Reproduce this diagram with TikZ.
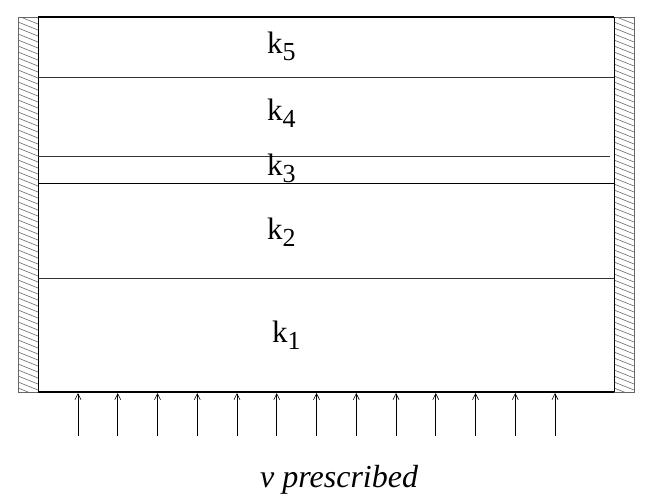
\documentclass[tikz,border=0pt]{standalone}
\usepackage{fontspec}
\setmainfont{Liberation Serif}
\usetikzlibrary{arrows.meta}
\newcommand{\kval}[1]{\fontsize{31}{31}\selectfont k\raisebox{-7pt}{\fontsize{26}{26}\selectfont #1}}

\begin{document}
\begin{tikzpicture}[x=1pt,y=-1pt]
		\useasboundingbox (0,0) rectangle (651,501);
		% walls
		\begin{scope}
			\clip (18,17) rectangle (38,392);
			\foreach \y in {4,10,...,400} \draw[black!60, line width=.6pt](18,\y)--(38,\y+8);
		\end{scope}
		\begin{scope}
			\clip (614,17) rectangle (634,392);
			\foreach \y in {4,10,...,400} \draw[black!60, line width=.6pt](614,\y)--(634,\y+8);
		\end{scope}
		\draw[black!60, line width=.8pt](18,17)rectangle(38,392);
		\draw[black!60, line width=.8pt](614,17)rectangle(634,392);
		% layers
		\draw[line width=1.1pt](38,17)--(614,17);
		\draw[line width=1.1pt](38,392)--(614,392);
		\draw[line width=.6pt](38,17)--(38,392);
		\draw[line width=.6pt](614,17)--(614,392);
		\draw[line width=.7pt, black!80](38,77)--(614,77);
		\draw[line width=.7pt, black!80](38,156)--(610,156);
		\draw[line width=.7pt](38,183)--(614,183);
		\draw[line width=.7pt, black!80](38,278)--(614,278);
		\node[anchor=base west, inner sep=0pt] (k5) at (267,53) {\kval{5}};
		\node[anchor=base west, inner sep=0pt] (k4) at (267,120) {\kval{4}};
		\node[anchor=base west, inner sep=0pt] (k3) at (267,175) {\kval{3}};
		\node[anchor=base west, inner sep=0pt] (k2) at (267,239) {\kval{2}};
		\node[anchor=base west, inner sep=0pt] (k1) at (272,342) {\kval{1}};
		% prescribed velocity
		\foreach \i in {0,...,12}{
			\coordinate (foot\i) at (78+39.75*\i,436);
			\coordinate (tip\i) at (78+39.75*\i,393);
			\draw[-{Straight Barb[length=6pt,width=6pt]}, line width=.6pt](foot\i)--(tip\i);
		}
		\node[anchor=base west, inner sep=0pt] (vp) at (260,487) {\fontsize{32}{32}\selectfont\itshape v prescribed};
	\end{tikzpicture}
\end{document}
